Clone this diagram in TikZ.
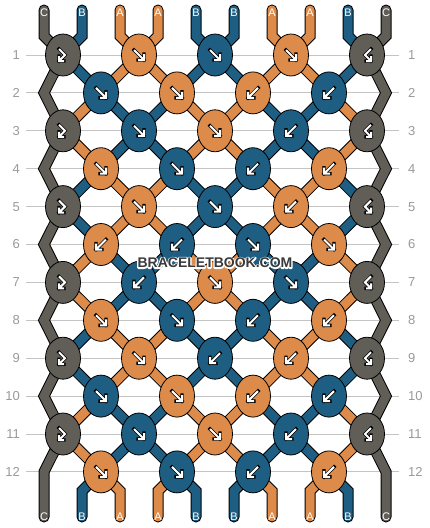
\documentclass[tikz,border=0pt]{standalone}
\usepackage{fontspec}
\setmainfont{Liberation Sans}
\usetikzlibrary{shapes.geometric}
\definecolor{org}{HTML}{DD8B4A}
\definecolor{blu}{HTML}{1E5E82}
\definecolor{gry}{HTML}{615E58}
\definecolor{gridc}{HTML}{C4C4C4}
\definecolor{numc}{HTML}{9A9A9A}
\definecolor{wmc}{HTML}{3A3A3A}
\pgfdeclarelayer{bg}
\pgfdeclarelayer{outl}
\pgfdeclarelayer{fillay}
\pgfsetlayers{bg,outl,fillay,main}
\newcommand\colS[1]{\ifcase#1\or gry\or blu\or org\or org\or blu\or blu\or org\or org\or blu\or gry\fi}
\newcommand\colT[1]{\ifcase#1\or gry\or org\or blu\or blu\or org\or org\or blu\or blu\or org\or gry\fi}
\newcommand\tailletter[1]{\ifcase#1\or C\or B\or A\or A\or B\or B\or A\or A\or B\or C\fi}
\newcommand\arrF{%
  \draw[arrowout] (-5,-5)--(5,5) (5,-1)--(5,5)--(-1,5);
  \draw[arrowin] (-5,-5)--(5,5) (5,-1)--(5,5)--(-1,5);}
\newcommand\arrB{%
  \draw[arrowout] (5,-5)--(-5,5) (-5,-1)--(-5,5)--(1,5);
  \draw[arrowin] (5,-5)--(-5,5) (-5,-1)--(-5,5)--(1,5);}
\newcommand\arrFB{%
  \draw[arrowout] (-4,-6)--(2,0)--(-4,6) (-4,1)--(-4,6)--(1,6);
  \draw[arrowin] (-4,-6)--(2,0)--(-4,6) (-4,1)--(-4,6)--(1,6);}
\newcommand\arrBF{%
  \draw[arrowout] (4,-6)--(-2,0)--(4,6) (4,1)--(4,6)--(-1,6);
  \draw[arrowin] (4,-6)--(-2,0)--(4,6) (4,1)--(4,6)--(-1,6);}
\begin{document}
\begin{tikzpicture}[x=1pt,y=-1pt,
  knot/.style={ellipse,draw=black,line width=0.8pt,minimum width=35pt,minimum height=42pt,inner sep=0pt},
  strout/.style={line width=11pt,draw=black,line join=miter},
  strin/.style={line width=9pt,line join=miter},
  rownum/.style={text=numc,font=\fontsize{13}{13}\selectfont,inner sep=2pt},
  taillbl/.style={text=white,font=\fontsize{11}{11}\selectfont,inner sep=0pt},
  gridline/.style={draw=gridc,line width=1pt},
  arrowout/.style={draw=black,line width=3.4pt,line join=miter,line cap=rect},
  arrowin/.style={draw=white,line width=2pt,line join=miter},
  wm/.style={font=\bfseries\fontsize{14}{14}\selectfont,inner sep=0pt}]
\useasboundingbox (0,0) rectangle (430,528);
\begin{pgfonlayer}{bg}
\fill[white] (0,0) rectangle (430,528);
\end{pgfonlayer}
% row numbers and grid lines
\foreach \r in {1,...,12} {
  \pgfmathsetmacro\yy{55+37.9*(\r-1)}
  \node[rownum,anchor=east] (L\r) at (22,\yy) {\r};
  \node[rownum,anchor=west] (R\r) at (406,\yy) {\r};
  \begin{pgfonlayer}{bg}
  \draw[gridline,shorten <=4pt,shorten >=7pt] (L\r.east) -- (R\r.west);
  \end{pgfonlayer}
}
% knots
\foreach \r/\p/\c/\t in {
  1/1/gry/FB,1/3/org/F,1/5/blu/F,1/7/org/F,1/9/gry/BF,
  2/2/blu/F,2/4/org/F,2/6/org/B,2/8/blu/B,
  3/1/gry/FB,3/3/blu/F,3/5/org/F,3/7/blu/B,3/9/gry/BF,
  4/2/org/F,4/4/blu/F,4/6/blu/B,4/8/org/B,
  5/1/gry/FB,5/3/org/F,5/5/blu/F,5/7/org/B,5/9/gry/BF,
  6/2/org/B,6/4/blu/B,6/6/blu/F,6/8/org/F,
  7/1/gry/FB,7/3/blu/B,7/5/org/F,7/7/blu/F,7/9/gry/BF,
  8/2/org/F,8/4/blu/F,8/6/blu/B,8/8/org/B,
  9/1/gry/FB,9/3/org/F,9/5/blu/B,9/7/org/B,9/9/gry/BF,
  10/2/blu/F,10/4/org/F,10/6/org/B,10/8/blu/B,
  11/1/gry/FB,11/3/blu/F,11/5/org/F,11/7/blu/B,11/9/gry/BF,
  12/2/org/F,12/4/blu/F,12/6/blu/B,12/8/org/B} {
  \pgfmathsetmacro\xx{63+38*(\p-1)}
  \pgfmathsetmacro\yy{55+37.9*(\r-1)}
  \node[knot,fill=\c] (K\r-\p) at (\xx,\yy) {};
  \begin{scope}[shift={(K\r-\p.center)}]
    \csname arr\t\endcsname
  \end{scope}
}
% edge bend points
\foreach \r in {2,4,...,12} {
  \pgfmathsetmacro\yy{55+37.9*(\r-1)}
  \coordinate (E\r-1) at (44,\yy);
  \coordinate (E\r-10) at (386,\yy);
}
% tail points and letters
\foreach \p in {1,...,10} {
  \pgfmathsetmacro\xx{44+38*(\p-1)}
  \coordinate (Ta\p) at (\xx,10);
  \coordinate (Tb\p) at (\xx,36);
  \coordinate (Ba\p) at (\xx,491);
  \coordinate (Bb\p) at (\xx,517);
  \node[taillbl] (TL\p) at (\xx,12.5) {\tailletter{\p}};
  \node[taillbl] (BL\p) at (\xx,516.5) {\tailletter{\p}};
}
% inner strings between rows
\foreach \r in {1,...,11} {
  \pgfmathtruncatemacro\rn{\r+1}
  \pgfmathtruncatemacro\m{mod(\r,4)}
  \foreach \p in {2,...,9} {
    \pgfmathtruncatemacro\pm{\p-1}
    \ifodd\r\relax
      \ifodd\p\relax \edef\qa{\p}\edef\qb{\pm}\else \edef\qa{\pm}\edef\qb{\p}\fi
    \else
      \ifodd\p\relax \edef\qa{\pm}\edef\qb{\p}\else \edef\qa{\p}\edef\qb{\pm}\fi
    \fi
    \ifnum\m<2 \edef\cc{\colS{\p}}\else \edef\cc{\colT{\p}}\fi
    \begin{pgfonlayer}{outl}
    \draw[strout] (K\r-\qa.center) -- (K\rn-\qb.center);
    \end{pgfonlayer}
    \begin{pgfonlayer}{fillay}
    \draw[strin,draw=\cc] (K\r-\qa.center) -- (K\rn-\qb.center);
    \end{pgfonlayer}
  }
}
% top and bottom tails of inner strings
\foreach \p in {2,...,9} {
  \pgfmathtruncatemacro\pm{\p-1}
  \ifodd\p\relax \edef\qa{\p}\edef\qb{\pm}\else \edef\qa{\pm}\edef\qb{\p}\fi
  \edef\cc{\colS{\p}}
  \begin{pgfonlayer}{outl}
  \draw[strout,line cap=round] (Ta\p) -- (Tb\p) -- (K1-\qa.center);
  \draw[strout,line cap=round] (K12-\qb.center) -- (Ba\p) -- (Bb\p);
  \end{pgfonlayer}
  \begin{pgfonlayer}{fillay}
  \draw[strin,line cap=round,draw=\cc] (Ta\p) -- (Tb\p) -- (K1-\qa.center);
  \draw[strin,line cap=round,draw=\cc] (K12-\qb.center) -- (Ba\p) -- (Bb\p);
  \end{pgfonlayer}
}
% edge strings
\begin{pgfonlayer}{outl}
\draw[strout,line cap=round] (Ta1) -- (Tb1) -- (K1-1.center) -- (E2-1) -- (K3-1.center) -- (E4-1) -- (K5-1.center) -- (E6-1) -- (K7-1.center) -- (E8-1) -- (K9-1.center) -- (E10-1) -- (K11-1.center) -- (E12-1) -- (Bb1);
\draw[strout,line cap=round] (Ta10) -- (Tb10) -- (K1-9.center) -- (E2-10) -- (K3-9.center) -- (E4-10) -- (K5-9.center) -- (E6-10) -- (K7-9.center) -- (E8-10) -- (K9-9.center) -- (E10-10) -- (K11-9.center) -- (E12-10) -- (Bb10);
\end{pgfonlayer}
\begin{pgfonlayer}{fillay}
\draw[strin,line cap=round,draw=gry] (Ta1) -- (Tb1) -- (K1-1.center) -- (E2-1) -- (K3-1.center) -- (E4-1) -- (K5-1.center) -- (E6-1) -- (K7-1.center) -- (E8-1) -- (K9-1.center) -- (E10-1) -- (K11-1.center) -- (E12-1) -- (Bb1);
\draw[strin,line cap=round,draw=gry] (Ta10) -- (Tb10) -- (K1-9.center) -- (E2-10) -- (K3-9.center) -- (E4-10) -- (K5-9.center) -- (E6-10) -- (K7-9.center) -- (E8-10) -- (K9-9.center) -- (E10-10) -- (K11-9.center) -- (E12-10) -- (Bb10);
\end{pgfonlayer}
% watermark: white stroked halo, then dark fill on top
\node[wm,text=white] (wmh) at (215,263) {\special{pdf:literal direct 1 Tr 2.6 w 1 1 1 RG 1 j}BRACELETBOOK.COM\special{pdf:literal direct 0 Tr}};
\node[wm,text=wmc] (wm) at (215,263) {BRACELETBOOK.COM};
\end{tikzpicture}
\end{document}
